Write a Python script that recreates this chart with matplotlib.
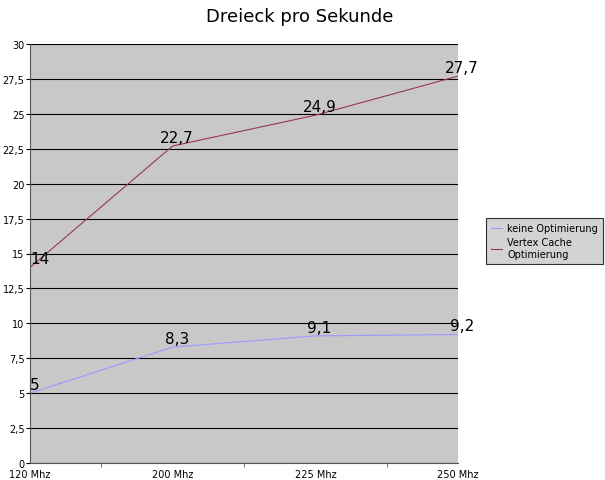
import matplotlib.pyplot as plt
from matplotlib.ticker import MultipleLocator, FuncFormatter

categories = ['120 Mhz', '200 Mhz', '225 Mhz', '250 Mhz']
keine = [5, 8.3, 9.1, 9.2]
vertex = [14, 22.7, 24.9, 27.7]

fig = plt.figure(figsize=(6.05, 4.81), dpi=100)
ax = fig.add_axes([30 / 605, 17 / 481, 428 / 605, 419 / 481])
ax.set_facecolor('#c8c8c8')

x = range(len(categories))
l1, = ax.plot(x, keine, color='#9999ff', lw=0.8, label='keine Optimierung')
l2, = ax.plot(x, vertex, color='#993366', lw=0.8, label='Vertex Cache\nOptimierung')

def fmt(v):
    return ('%g' % v).replace('.', ',')

for series in (keine, vertex):
    for xi, v in zip(x, series):
        if xi == 0:
            ax.annotate(fmt(v), (xi, v), xytext=(0, 1), textcoords='offset points',
                        ha='left', va='bottom', fontsize=11)
        else:
            ax.annotate(fmt(v), (xi, v), xytext=(3, 1), textcoords='offset points',
                        ha='center', va='bottom', fontsize=11)

ax.set_xlim(0, 3)
ax.set_ylim(0, 30)
ax.yaxis.set_major_locator(MultipleLocator(2.5))
ax.yaxis.set_major_formatter(FuncFormatter(lambda v, p: fmt(v)))
ax.grid(axis='y', color='black', lw=0.8)
ax.set_axisbelow(True)

ax.set_xticks(list(x))
ax.set_xticklabels(categories)
ax.set_xticks([0.5, 1.5, 2.5], minor=True)
ax.tick_params(axis='x', which='major', length=0, labelsize=7, pad=4)
ax.tick_params(axis='x', which='minor', length=3, color='#555555')
ax.tick_params(axis='y', length=3, labelsize=7, pad=1)
ax.spines['top'].set_visible(False)
ax.spines['right'].set_visible(False)
ax.spines['left'].set_color('#555555')
ax.spines['bottom'].set_color('#555555')

fig.text(300 / 605, 1 - 17 / 481, 'Dreieck pro Sekunde',
         ha='center', va='center', fontsize=13)

leg = fig.legend(handles=[l1, l2], loc='center left',
                 bbox_to_anchor=(481 / 605, 1 - 242 / 481), fontsize=7,
                 frameon=True, fancybox=False, edgecolor='black',
                 facecolor='#c8c8c8', handlelength=1.2, borderpad=0.5,
                 labelspacing=0.4, handletextpad=0.5)
leg.get_frame().set_linewidth(0.8)

fig.savefig('out.png', dpi=100)
